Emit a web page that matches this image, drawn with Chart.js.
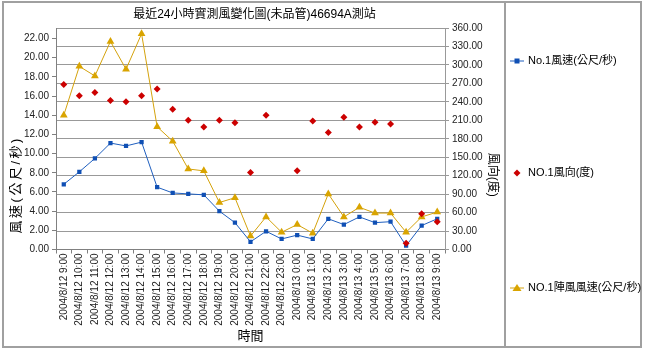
<!DOCTYPE html>
<html>
<head>
<meta charset="utf-8">
<script src="https://cdn.jsdelivr.net/npm/chart.js@4/dist/chart.umd.min.js"></script>
<style>
  html, body { margin: 0; padding: 0; background: #fff; }
  #wrap { width: 645px; height: 350px; }
</style>
</head>
<body>
<div id="wrap"><canvas id="windChart" width="645" height="350"></canvas></div>
<script>
// hourly observations, 2004/8/12 9:00 .. 2004/8/13 9:00
const timeLabels = [
    '2004/8/12 9:00', '2004/8/12 10:00', '2004/8/12 11:00', '2004/8/12 12:00', '2004/8/12 13:00',
    '2004/8/12 14:00', '2004/8/12 15:00', '2004/8/12 16:00', '2004/8/12 17:00', '2004/8/12 18:00',
    '2004/8/12 19:00', '2004/8/12 20:00', '2004/8/12 21:00', '2004/8/12 22:00', '2004/8/12 23:00',
    '2004/8/13 0:00', '2004/8/13 1:00', '2004/8/13 2:00', '2004/8/13 3:00', '2004/8/13 4:00',
    '2004/8/13 5:00', '2004/8/13 6:00', '2004/8/13 7:00', '2004/8/13 8:00', '2004/8/13 9:00'
];
const windSpeed = [6.8, 8.1, 9.5, 11.1, 10.8, 11.2, 6.5, 5.9, 5.8, 5.7, 4.0, 2.8, 0.8,
    1.9, 1.1, 1.5, 1.1, 3.2, 2.6, 3.4, 2.8, 2.9, 0.4, 2.5, 3.2];
const windDir = [268, 250, 255, 242, 240, 250, 261, 228, 210, 199, 210, 206, 125,
    218, null, 128, 209, 190, 215, 199, 207, 204, 10, 58, 45];
const gustSpeed = [14.0, 19.1, 18.1, 21.7, 18.8, 22.5, 12.8, 11.3, 8.4, 8.2, 4.9, 5.4, 1.4,
    3.4, 1.8, 2.6, 1.7, 5.8, 3.4, 4.4, 3.8, 3.8, 1.8, 3.4, 3.9];
const speedTicks = [0, 2, 4, 6, 8, 10, 12, 14, 16, 18, 20, 22];

const FONT = "Arial, 'Liberation Sans', 'Noto Sans CJK TC', sans-serif";
const BLUE = '#1f5fbf';
const RED = '#cc0000';
const GOLD = '#d4a20c';

// frame, axis titles and the side legend
const decorations = {
    id: 'decorations',
    afterDraw(chart) {
        const ctx = chart.ctx;
        const area = chart.chartArea;
        const mid = (area.top + area.bottom) / 2;
        ctx.save();

        ctx.strokeStyle = '#a0a0a0';
        ctx.lineWidth = 2;
        ctx.strokeRect(3, 2, 638, 345);
        ctx.beginPath();
        ctx.moveTo(505, 2);
        ctx.lineTo(505, 347);
        ctx.stroke();

        ctx.fillStyle = '#000';
        ctx.textAlign = 'center';
        ctx.textBaseline = 'middle';

        ctx.save();
        ctx.font = '13px ' + FONT;
        ctx.letterSpacing = '2.5px';
        ctx.translate(16, mid + 46);
        ctx.rotate(-Math.PI / 2);
        ctx.fillText('風速(公尺/秒)', 0, 0);
        ctx.restore();

        ctx.save();
        ctx.font = '12px ' + FONT;
        ctx.translate(492, mid + 36);
        ctx.rotate(Math.PI / 2);
        ctx.fillText('風向(度)', 0, 0);
        ctx.restore();

        // legend entries
        const rows = [61, 173, 288];
        ctx.font = '11px ' + FONT;
        ctx.textAlign = 'left';
        chart.data.datasets.forEach((ds, i) => {
            const y = rows[i];
            if (ds.showLine !== false) {
                ctx.strokeStyle = ds.borderColor;
                ctx.lineWidth = 1;
                ctx.beginPath();
                ctx.moveTo(510, y);
                ctx.lineTo(524, y);
                ctx.stroke();
            }
            ctx.fillStyle = ds.pointBackgroundColor;
            ctx.beginPath();
            if (ds.pointStyle === 'rect') {
                ctx.rect(514.5, y - 2.5, 5, 5);
            } else if (ds.pointStyle === 'rectRot') {
                ctx.moveTo(517, y - 3.5);
                ctx.lineTo(520.5, y);
                ctx.lineTo(517, y + 3.5);
                ctx.lineTo(513.5, y);
            } else {
                ctx.moveTo(517, y - 4);
                ctx.lineTo(521.5, y + 3);
                ctx.lineTo(512.5, y + 3);
            }
            ctx.closePath();
            ctx.fill();
            ctx.fillStyle = '#000';
            ctx.fillText(ds.label, 528, y);
        });
        ctx.restore();
    }
};

new Chart(document.getElementById('windChart'), {
    type: 'line',
    data: {
        labels: timeLabels,
        datasets: [{
            label: 'No.1風速(公尺/秒)',
            data: windSpeed,
            yAxisID: 'y',
            borderColor: BLUE,
            borderWidth: 1,
            pointStyle: 'rect',
            pointRadius: 3,
            pointBackgroundColor: '#0f4fb4',
            pointBorderColor: '#0f4fb4',
            pointBorderWidth: 0,
            order: 1
        }, {
            label: 'NO.1風向(度)',
            data: windDir,
            yAxisID: 'y1',
            showLine: false,
            pointStyle: 'rectRot',
            pointRadius: 3.5,
            pointBackgroundColor: RED,
            pointBorderColor: RED,
            pointBorderWidth: 0,
            order: 0
        }, {
            label: 'NO.1陣風風速(公尺/秒)',
            data: gustSpeed,
            yAxisID: 'y',
            borderColor: GOLD,
            borderWidth: 1,
            pointStyle: 'triangle',
            pointRadius: 4.5,
            pointBackgroundColor: '#d9a400',
            pointBorderColor: '#d9a400',
            pointBorderWidth: 0,
            order: 2
        }]
    },
    options: {
        responsive: false,
        animation: false,
        layout: { padding: { left: 4, right: 140, top: 2, bottom: 4 } },
        plugins: {
            legend: { display: false },
            tooltip: { enabled: false },
            title: {
                display: true,
                text: '最近24小時實測風變化圖(未品管)46694A測站',
                color: '#000',
                font: { family: FONT, size: 12, weight: 'normal' },
                padding: { top: 5, bottom: 6.6 }
            }
        },
        scales: {
            x: {
                offset: true,
                grid: { offset: true, drawOnChartArea: false, tickLength: 4, color: '#808080' },
                border: { color: '#808080' },
                ticks: {
                    autoSkip: false, minRotation: 90, maxRotation: 90, padding: 0,
                    color: '#222', font: { family: FONT, size: 10 }
                },
                title: {
                    display: true, text: '時間', color: '#000',
                    font: { family: FONT, size: 13 }, padding: { top: 0, bottom: 2 }
                },
                afterFit(scale) { scale.height = 96.5; }
            },
            y: {
                position: 'left',
                min: 0,
                max: 23.1,
                afterBuildTicks(scale) {
                    scale.ticks = speedTicks.map(v => ({ value: v }));
                },
                grid: { drawOnChartArea: false, tickLength: 4, color: '#808080' },
                border: { color: '#808080' },
                ticks: {
                    padding: 3, color: '#222', font: { family: FONT, size: 10 },
                    callback: v => v.toFixed(2)
                },
                afterFit(scale) { scale.width = 52; }
            },
            y1: {
                position: 'right',
                min: 0,
                max: 360,
                ticks: {
                    stepSize: 30, padding: 3, color: '#222', font: { family: FONT, size: 10 },
                    callback: v => v.toFixed(2)
                },
                grid: { color: '#999999', lineWidth: 1, tickLength: 4 },
                border: { color: '#999999' },
                afterFit(scale) { scale.width = 60; }
            }
        }
    },
    plugins: [decorations]
});
</script>
</body>
</html>
